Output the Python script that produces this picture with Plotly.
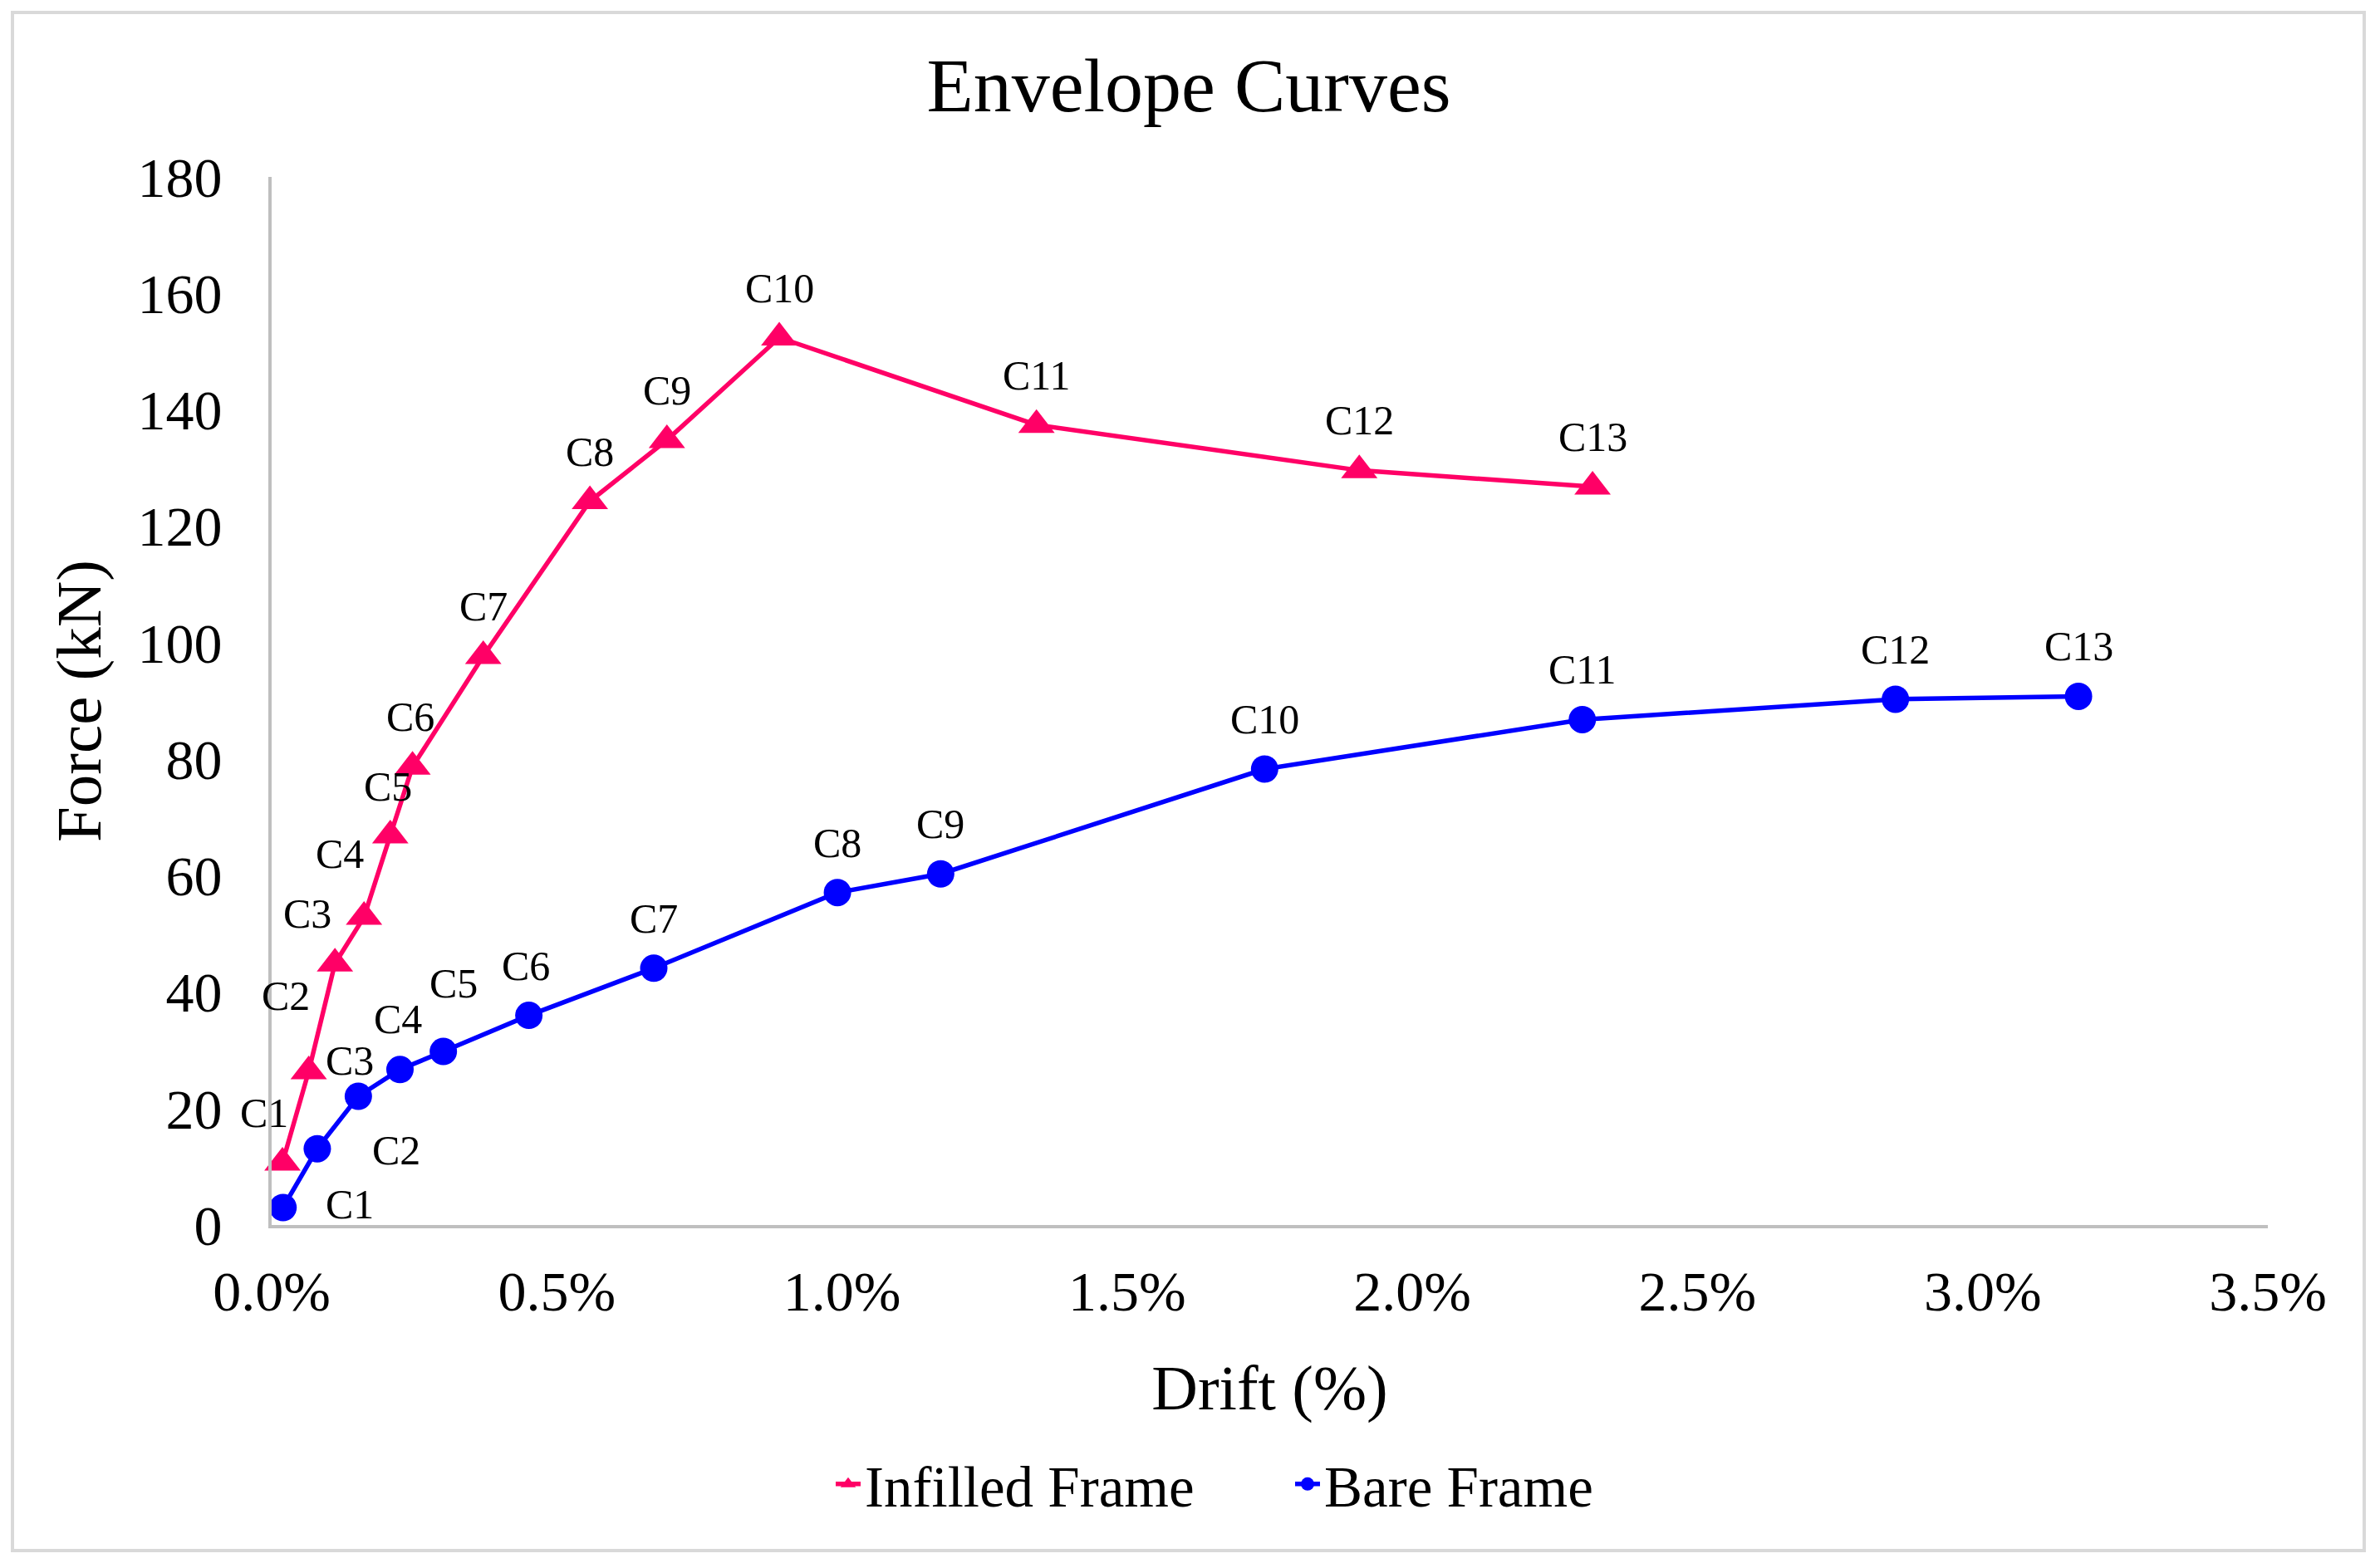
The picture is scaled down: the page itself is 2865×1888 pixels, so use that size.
import plotly.graph_objects as go

# ---- data ----
cycle_labels = ["C1", "C2", "C3", "C4", "C5", "C6", "C7", "C8", "C9", "C10", "C11", "C12", "C13"]

infilled_drift = [0.019, 0.065, 0.111, 0.162, 0.208, 0.247, 0.371, 0.558, 0.693, 0.890, 1.341, 1.907, 2.316]
infilled_force = [10.7, 26.4, 44.9, 52.9, 66.9, 78.7, 97.7, 124.3, 134.8, 152.4, 137.4, 129.6, 126.8]

bare_drift = [0.020, 0.080, 0.152, 0.225, 0.301, 0.451, 0.670, 0.992, 1.173, 1.741, 2.298, 2.847, 3.168]
bare_force = [3.0, 13.1, 22.1, 26.7, 29.8, 36.0, 44.1, 57.1, 60.3, 78.3, 86.8, 90.3, 90.8]

x_ticks = [0.0, 0.5, 1.0, 1.5, 2.0, 2.5, 3.0, 3.5]
x_tick_labels = ["0.0%", "0.5%", "1.0%", "1.5%", "2.0%", "2.5%", "3.0%", "3.5%"]
y_ticks = [0, 20, 40, 60, 80, 100, 120, 140, 160, 180]

# ---- styling ----
FONT = "Liberation Serif, Times New Roman, serif"
PINK = "#FF0066"
BLUE = "#0000FF"
AXIS = "#BFBFBF"

# label offsets from each marker, in pixels (dx right, dy up)
infilled_label_offsets = [(-22, 60), (-28, 91), (-33, 60), (-29, 76), (-3, 59), (-3, 60),
                          (0, 60), (0, 60), (0, 60), (0, 60), (0, 60), (0, 60), (0, 60)]
bare_label_offsets = [(80, 4), (95, -2), (-10, 43), (-2, 61), (12, 82), (-4, 60),
                      (0, 60), (0, 60), (0, 60), (0, 60), (0, 60), (0, 60), (0, 60)]

fig = go.Figure()
fig.add_trace(go.Scatter(
    x=infilled_drift, y=infilled_force, name="Infilled Frame",
    mode="lines+markers",
    line=dict(color=PINK, width=5.5),
    marker=dict(symbol="triangle-up", size=38, color=PINK),
    cliponaxis=False,
))
fig.add_trace(go.Scatter(
    x=bare_drift, y=bare_force, name="Bare Frame",
    mode="lines+markers",
    line=dict(color=BLUE, width=5.5),
    marker=dict(symbol="circle", size=33, color=BLUE),
    cliponaxis=False,
))

annotations = []
for xs, ys, offs in [(infilled_drift, infilled_force, infilled_label_offsets),
                     (bare_drift, bare_force, bare_label_offsets)]:
    for lab, xv, yv, (dx, dy) in zip(cycle_labels, xs, ys, offs):
        annotations.append(dict(x=xv, y=yv, xref="x", yref="y", text=lab, showarrow=False,
                                xanchor="center", yanchor="middle", xshift=dx, yshift=dy,
                                font=dict(family=FONT, size=50, color="black")))

W, H = 2865, 1888
OFF = 8  # the page body margin shifts the figure by this much
L, R, T, B = 327 - OFF, 135 + OFF, 213 - OFF, 413 + OFF
pw, ph = W - L - R, H - T - B

def px_to_paper_x(px):
    # px: screen position in the reference picture
    return (px - OFF - L) / pw

def px_to_paper_y(py):
    return (H - B - (py - OFF)) / ph

# outer chart border
fig.add_shape(type="rect", xref="paper", yref="paper",
              x0=px_to_paper_x(15), x1=px_to_paper_x(2846),
              y0=px_to_paper_y(1867), y1=px_to_paper_y(15),
              line=dict(color="#D9D9D9", width=4), fillcolor="rgba(0,0,0,0)", layer="below")

fig.update_layout(
    width=W, height=H, autosize=False,
    margin=dict(l=L, r=R, t=T, b=B, autoexpand=False),
    paper_bgcolor="white", plot_bgcolor="white",
    font=dict(family=FONT, color="black"),
    annotations=annotations,
    title=dict(text="Envelope Curves", x=(1431 - OFF) / W, xanchor="center", xref="container",
               y=1 - (102 - OFF) / H, yanchor="middle", yref="container",
               font=dict(family=FONT, size=92, color="black")),
    showlegend=True,
    legend=dict(orientation="h", x=px_to_paper_x(1001), xanchor="left",
                y=px_to_paper_y(1787), yanchor="middle",
                font=dict(family=FONT, size=69, color="black"),
                bgcolor="rgba(0,0,0,0)", entrywidthmode="pixels", entrywidth=508),
    xaxis=dict(range=[0, 3.5], tickvals=x_ticks, ticktext=x_tick_labels,
               showgrid=False, zeroline=False, showline=True, linecolor=AXIS, linewidth=4,
               ticks="", ticklabelstandoff=17,
               tickfont=dict(family=FONT, size=68, color="black"),
               title=dict(text="Drift (%)", font=dict(family=FONT, size=77, color="black"), standoff=53)),
    yaxis=dict(range=[0, 180], tickvals=y_ticks,
               showgrid=False, zeroline=False, showline=True, linecolor=AXIS, linewidth=4,
               ticks="", ticklabelstandoff=42,
               tickfont=dict(family=FONT, size=68, color="black"),
               title=dict(text="Force (kN)", font=dict(family=FONT, size=77, color="black"), standoff=19)),
)

fig.write_html("out.html")
